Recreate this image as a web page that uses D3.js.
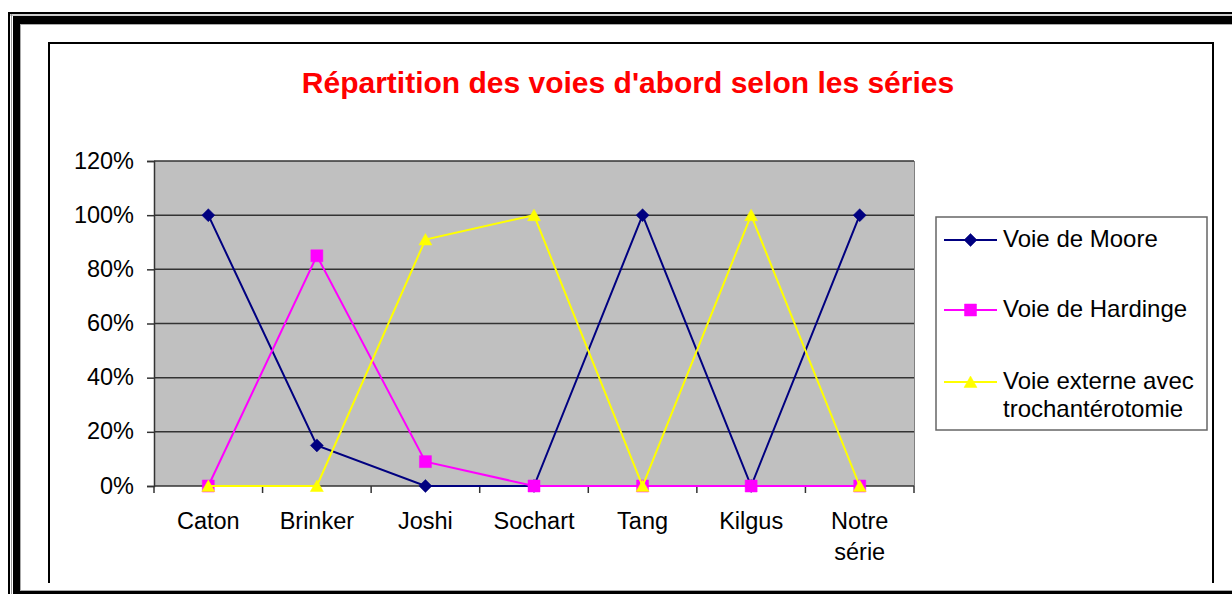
<!DOCTYPE html>
<html>
<head>
<meta charset="utf-8">
<script src="https://cdn.jsdelivr.net/npm/d3@7"></script>
<style>
  html, body { margin: 0; padding: 0; background: #fff; }
  svg { display: block; font-family: "Liberation Sans", Arial, sans-serif; }
</style>
</head>
<body>
<svg id="chart" width="1232" height="594"></svg>
<script>
// ---- data ----
const categories = ["Caton", "Brinker", "Joshi", "Sochart", "Tang", "Kilgus", "Notre série"];
const moore    = [1.00, 0.15, 0.00, 0.00, 1.00, 0.00, 1.00];
const hardinge = [0.00, 0.85, 0.09, 0.00, 0.00, 0.00, 0.00];
const externe  = [0.00, 0.00, 0.91, 1.00, 0.00, 1.00, 0.00];
const yTicks = [0, 0.2, 0.4, 0.6, 0.8, 1.0, 1.2];
const seriesNames = ["Voie de Moore", "Voie de Hardinge", "Voie externe avec trochantérotomie"];
const titleText = "Répartition des voies d'abord selon les séries";

const series = [
  { name: seriesNames[0], values: moore,    color: "#000080", shape: "diamond" },
  { name: seriesNames[1], values: hardinge, color: "#FF00FF", shape: "square" },
  { name: seriesNames[2], values: externe,  color: "#FFFF00", shape: "triangle" }
];

const svg = d3.select("#chart");

// ---- outer decorative frame ----
const frame = svg.append("g");
// thin outer line
frame.append("line").attr("x1", 9).attr("x2", 9).attr("y1", 12).attr("y2", 594).attr("stroke", "#000").attr("stroke-width", 2);
frame.append("line").attr("x1", 8).attr("x2", 1232).attr("y1", 13).attr("y2", 13).attr("stroke", "#000").attr("stroke-width", 2);
// gray separators
frame.append("line").attr("x1", 11.5).attr("x2", 11.5).attr("y1", 14).attr("y2", 594).attr("stroke", "#999").attr("stroke-width", 1);
frame.append("line").attr("x1", 10).attr("x2", 1232).attr("y1", 15).attr("y2", 15).attr("stroke", "#999").attr("stroke-width", 1);
// thick band
frame.append("rect").attr("x", 13).attr("y", 16).attr("width", 7).attr("height", 578).attr("fill", "#000");
frame.append("rect").attr("x", 13).attr("y", 16).attr("width", 1219).attr("height", 8).attr("fill", "#000");
frame.append("rect").attr("x", 13).attr("y", 591).attr("width", 1219).attr("height", 3).attr("fill", "#000");
frame.append("line").attr("x1", 20.5).attr("x2", 20.5).attr("y1", 24).attr("y2", 591).attr("stroke", "#aaa").attr("stroke-width", 1);
frame.append("line").attr("x1", 20).attr("x2", 1232).attr("y1", 24.5).attr("y2", 24.5).attr("stroke", "#aaa").attr("stroke-width", 1);
frame.append("line").attr("x1", 20).attr("x2", 1232).attr("y1", 590.5).attr("y2", 590.5).attr("stroke", "#aaa").attr("stroke-width", 1);

// ---- chart area border ----
svg.append("path")
  .attr("d", "M49,583 L49,43 L1213,43 L1213,583")
  .attr("fill", "none").attr("stroke", "#000").attr("stroke-width", 2);

// ---- title ----
svg.append("text")
  .attr("x", 628).attr("y", 93)
  .attr("text-anchor", "middle")
  .attr("font-size", 30).attr("font-weight", "bold")
  .attr("fill", "#FF0000")
  .text(titleText);

// ---- scales ----
const plot = { left: 154, right: 914, top: 161, bottom: 486 };
const x = d3.scaleBand().domain(categories).range([plot.left, plot.right]).paddingInner(0).paddingOuter(0);
const y = d3.scaleLinear().domain([0, 1.2]).range([plot.bottom, plot.top]);
const cx = c => x(c) + x.bandwidth() / 2;

// plot background
svg.append("rect")
  .attr("x", plot.left).attr("y", plot.top)
  .attr("width", plot.right - plot.left).attr("height", plot.bottom - plot.top)
  .attr("fill", "#C0C0C0");
// right border of plot area
svg.append("line")
  .attr("x1", plot.right + 0.5).attr("x2", plot.right + 0.5).attr("y1", plot.top).attr("y2", plot.bottom)
  .attr("stroke", "#808080").attr("stroke-width", 1);

// gridlines
svg.append("g").selectAll("line").data(yTicks.filter(d => d > 0)).join("line")
  .attr("x1", plot.left).attr("x2", plot.right)
  .attr("y1", d => y(d)).attr("y2", d => y(d))
  .attr("stroke", "#333").attr("stroke-width", 1.5);

// y axis
const yAxis = d3.axisLeft(y).tickValues(yTicks).tickSize(7).tickPadding(13)
  .tickFormat(d => Math.round(d * 100) + "%");
const gy = svg.append("g").attr("transform", `translate(${plot.left},0)`).call(yAxis);
gy.select(".domain").attr("stroke", "#333").attr("stroke-width", 1.5);
gy.selectAll(".tick line").attr("stroke", "#333").attr("stroke-width", 1.5);
gy.selectAll(".tick text")
  .attr("font-size", 23.5).attr("font-family", "Liberation Sans, Arial, sans-serif")
  .attr("fill", "#000").attr("dy", "0.30em");

// x axis
const gx = svg.append("g").attr("transform", `translate(0,${plot.bottom})`);
gx.append("line").attr("x1", plot.left).attr("x2", plot.right).attr("y1", 0).attr("y2", 0)
  .attr("stroke", "#333").attr("stroke-width", 1.5);
const boundaries = categories.map(c => x(c)).concat([plot.right]);
gx.selectAll("line.tk").data(boundaries).join("line").attr("class", "tk")
  .attr("x1", d => d).attr("x2", d => d).attr("y1", 0).attr("y2", 7)
  .attr("stroke", "#333").attr("stroke-width", 1.5);
const catText = gx.selectAll("text.cat").data(categories).join("text").attr("class", "cat")
  .attr("x", d => cx(d)).attr("y", 43)
  .attr("text-anchor", "middle").attr("font-size", 23.5).attr("fill", "#000");
catText.each(function(d) {
  const words = d.split(" ");
  const t = d3.select(this);
  words.forEach((w, i) => {
    t.append("tspan").attr("x", cx(d)).attr("dy", i === 0 ? 0 : 31).text(w);
  });
});

// ---- marker shapes ----
function markerPath(shape) {
  if (shape === "diamond") return "M0,-6.5 L6.5,0 L0,6.5 L-6.5,0 Z";
  if (shape === "square") return "M-6,-6 L6,-6 L6,6 L-6,6 Z";
  return "M0,-6 L6.5,5.5 L-6.5,5.5 Z";
}

// ---- lines and markers ----
const line = d3.line().x(d => cx(d.c)).y(d => y(d.v));
series.forEach(s => {
  const pts = categories.map((c, i) => ({ c, v: s.values[i] }));
  const g = svg.append("g");
  g.append("path").datum(pts).attr("d", line)
    .attr("fill", "none").attr("stroke", s.color).attr("stroke-width", 2);
  g.selectAll("path.m").data(pts).join("path").attr("class", "m")
    .attr("d", markerPath(s.shape))
    .attr("transform", d => `translate(${cx(d.c)},${y(d.v)})`)
    .attr("fill", s.color).attr("stroke", s.color).attr("stroke-width", 0.5);
});

// ---- legend ----
const lg = svg.append("g");
lg.append("rect").attr("x", 936).attr("y", 217).attr("width", 271).attr("height", 213)
  .attr("fill", "#fff").attr("stroke", "#666").attr("stroke-width", 1.5);
const legendY = [240, 310, 382];
series.forEach((s, i) => {
  const ly = legendY[i];
  lg.append("line").attr("x1", 944).attr("x2", 997).attr("y1", ly).attr("y2", ly)
    .attr("stroke", s.color).attr("stroke-width", 2);
  lg.append("path").attr("d", markerPath(s.shape)).attr("transform", `translate(970.5,${ly})`)
    .attr("fill", s.color).attr("stroke", s.color).attr("stroke-width", 0.5);
  const t = lg.append("text").attr("x", 1003).attr("y", ly + 6.5).attr("font-size", 24).attr("fill", "#000");
  if (i === 2) {
    t.append("tspan").attr("x", 1003).text("Voie externe avec");
    t.append("tspan").attr("x", 1003).attr("dy", 28.5).text("trochantérotomie");
  } else {
    t.text(s.name);
  }
});
</script>
</body>
</html>
